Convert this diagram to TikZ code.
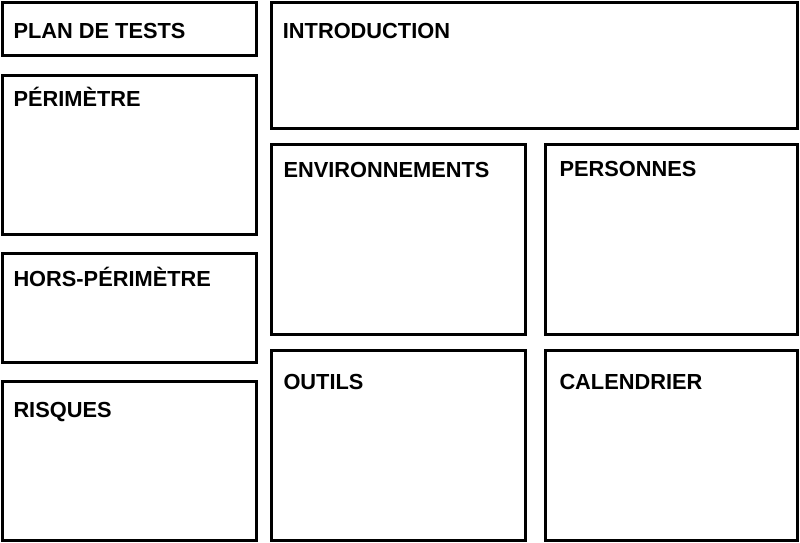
\documentclass[tikz,border=0pt]{standalone}
\usepackage{fontspec}
\setsansfont{Liberation Sans}
\usepackage{tikz}

\tikzset{
    cadre/.style={draw=black, line width=3pt},
    titre/.style={anchor=base west, inner sep=0pt, font=\sffamily\bfseries\fontsize{21.8}{26}\selectfont}
}

\begin{document}
\begin{tikzpicture}[x=1pt, y=-1pt]
    \fill[white] (0,0) rectangle (800,543);
    \useasboundingbox (0,0) rectangle (800,543);
    % left column
    \draw[cadre] (2.5,3) rectangle (256.5,55.5);
    \node[titre] (plan) at (13.3,39) {PLAN DE TESTS};
    \draw[cadre] (2.5,75.5) rectangle (256.5,234.5);
    \node[titre] (perimetre) at (13.3,106) {PÉRIMÈTRE};
    \draw[cadre] (2.5,253.5) rectangle (256.5,362.5);
    \node[titre] (hors) at (13.3,286) {HORS-PÉRIMÈTRE};
    \draw[cadre] (2.5,381.5) rectangle (256.5,540);
    \node[titre] (risques) at (13.3,417) {RISQUES};
    % right part
    \draw[cadre] (271.5,2.5) rectangle (797.5,128);
    \node[titre] (intro) at (282.7,39) {INTRODUCTION};
    \draw[cadre] (271.5,144.5) rectangle (525.5,334);
    \node[titre] (env) at (283.3,177) {ENVIRONNEMENTS};
    \draw[cadre] (545,144.5) rectangle (797.5,334);
    \node[titre] (personnes) at (559.3,176) {PERSONNES};
    \draw[cadre] (271.5,350.5) rectangle (525.5,540);
    \node[titre] (outils) at (283.3,389) {OUTILS};
    \draw[cadre] (545,350.5) rectangle (797.5,540);
    \node[titre] (calendrier) at (559.3,389) {CALENDRIER};
\end{tikzpicture}
\end{document}
